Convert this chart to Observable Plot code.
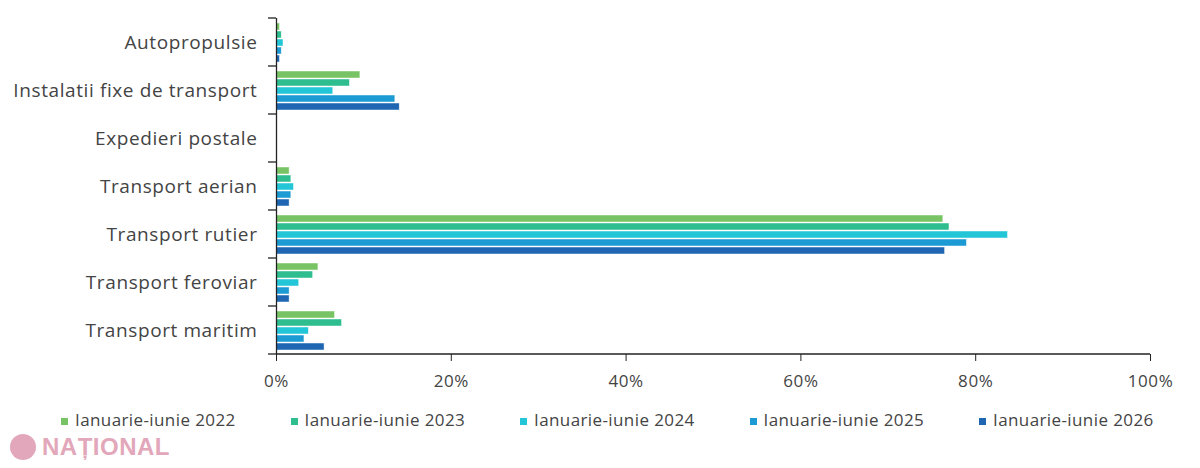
<!DOCTYPE html>
<html>
<head>
<meta charset="utf-8">
<script src="https://cdn.jsdelivr.net/npm/d3@7"></script>
<script src="https://cdn.jsdelivr.net/npm/@observablehq/plot@0.6"></script>
<style>
  body { margin: 0; background: #fff; font-family: "Open Sans", sans-serif; }
  #chart { position: relative; width: 1200px; height: 468px; overflow: hidden; }
  #chart svg text { letter-spacing: 0.6px; }
  #legend { position: absolute; left: 61px; top: 408px; display: flex; }
  .item { width: 229.5px; display: flex; align-items: center; font-size: 17px; letter-spacing: 0.4px; color: #444; white-space: nowrap; }
  .sw { width: 7px; height: 7px; margin-right: 7px; margin-top: 3px; }
  #wm { position: absolute; left: 10px; top: 433px; display: flex; align-items: center; opacity: 0.75; }
  #wm .logo { width: 26px; height: 26px; border-radius: 50%; background: #d98aa3; margin-right: 6px; }
  #wm .txt { font-family: "Liberation Sans", sans-serif; font-weight: bold; font-size: 24px; color: #d98aa3; letter-spacing: 0.5px; }
</style>
</head>
<body>
<div id="chart"></div>
<script>
const categories = ["Autopropulsie", "Instalatii fixe de transport", "Expedieri postale", "Transport aerian", "Transport rutier", "Transport feroviar", "Transport maritim"];
const years = ["Ianuarie-iunie 2022", "Ianuarie-iunie 2023", "Ianuarie-iunie 2024", "Ianuarie-iunie 2025", "Ianuarie-iunie 2026"];
const colors = ["#78c465", "#2dbd8e", "#22c6d6", "#1b9ad4", "#1f66b2"];
const v2022 = [0.4, 9.6, 0, 1.5, 76.3, 4.8, 6.7];
const v2023 = [0.6, 8.4, 0, 1.7, 77.0, 4.2, 7.5];
const v2024 = [0.8, 6.5, 0, 2.0, 83.7, 2.6, 3.7];
const v2025 = [0.6, 13.6, 0, 1.7, 79.0, 1.5, 3.2];
const v2026 = [0.4, 14.1, 0, 1.5, 76.5, 1.5, 5.5];
const xTicks = [0, 20, 40, 60, 80, 100];

const series = [v2022, v2023, v2024, v2025, v2026];
const data = [];
categories.forEach((c, i) => series.forEach((s, j) => data.push({category: c, year: years[j], value: s[i]})));

const plot = Plot.plot({
  width: 1200,
  height: 396,
  marginTop: 16,
  marginBottom: 40,
  marginLeft: 276,
  marginRight: 50,
  style: {fontFamily: "Open Sans, sans-serif", fontSize: "18px", color: "#444"},
  x: {domain: [0, 100]},
  fy: {domain: categories, padding: 0},
  y: {domain: years, paddingInner: 0.15, paddingOuter: 0.5, axis: null},
  color: {domain: years, range: colors},
  marks: [
    Plot.barX(data, {x: "value", y: "year", fy: "category", fill: "year", stroke: "#fff", strokeWidth: 0.6, strokeOpacity: 0.8}),
    Plot.ruleX([0], {stroke: "#222", strokeWidth: 1.3}),
    Plot.axisFy({anchor: "left", tickSize: 0, tickPadding: 19, label: null, fontSize: 19, fill: "#444"}),
    Plot.axisX({ticks: xTicks, tickFormat: d => d + "%", tickSize: 7, tickPadding: 13, label: null, stroke: "#222", fill: "#444", fontSize: 17})
  ]
});

// band boundary ticks and bottom axis line from plot scales
const fy = plot.scale("fy");
const xs = plot.scale("x");
const x0 = xs.apply(0), x1 = xs.apply(100);
const svg = d3.select(plot);
const bounds = categories.map(c => fy.apply(c));
bounds.push(fy.apply(categories[categories.length - 1]) + fy.bandwidth);
const g = svg.append("g").attr("stroke", "#222").attr("stroke-width", 1.3);
bounds.forEach(b => g.append("line").attr("x1", x0 - 8).attr("x2", x0).attr("y1", b).attr("y2", b));
const yb = bounds[bounds.length - 1];
g.append("line").attr("x1", x0).attr("x2", x1).attr("y1", yb).attr("y2", yb);

const chart = document.getElementById("chart");
chart.appendChild(plot);

const legend = document.createElement("div");
legend.id = "legend";
years.forEach((y, i) => {
  const it = document.createElement("div");
  it.className = "item";
  const sw = document.createElement("span");
  sw.className = "sw";
  sw.style.background = colors[i];
  it.appendChild(sw);
  it.appendChild(document.createTextNode(y));
  legend.appendChild(it);
});
chart.appendChild(legend);

const wm = document.createElement("div");
wm.id = "wm";
wm.innerHTML = '<div class="logo"></div><div class="txt">NAȚIONAL</div>';
chart.appendChild(wm);
</script>
</body>
</html>
